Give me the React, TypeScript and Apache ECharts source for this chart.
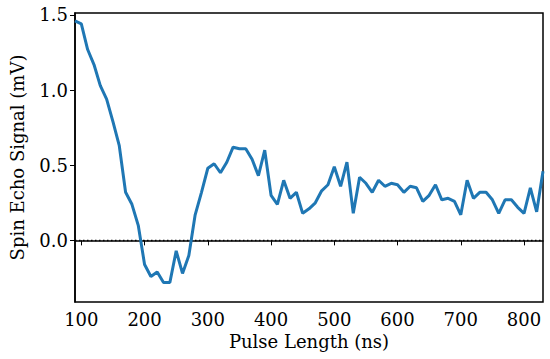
import React, { useEffect, useRef } from "react";
import * as echarts from "echarts";

const pulseLengths = [
  90, 100, 110, 120, 130, 140, 150, 160, 170, 180, 190, 200, 210, 220, 230, 240, 250, 260, 270, 280,
  290, 300, 310, 320, 330, 340, 350, 360, 370, 380, 390, 400, 410, 420, 430, 440, 450, 460, 470, 480,
  490, 500, 510, 520, 530, 540, 550, 560, 570, 580, 590, 600, 610, 620, 630, 640, 650, 660, 670, 680,
  690, 700, 710, 720, 730, 740, 750, 760, 770, 780, 790, 800, 810, 820, 830,
];

const signal = [
  1.46, 1.44, 1.27, 1.17, 1.03, 0.94, 0.79, 0.63, 0.32, 0.24, 0.1, -0.16, -0.24, -0.21, -0.28, -0.28, -0.07, -0.22, -0.1, 0.17,
  0.32, 0.48, 0.51, 0.45, 0.52, 0.62, 0.61, 0.61, 0.54, 0.43, 0.6, 0.3, 0.24, 0.4, 0.28, 0.32, 0.18, 0.21, 0.25, 0.33,
  0.37, 0.49, 0.36, 0.52, 0.18, 0.42, 0.38, 0.32, 0.4, 0.36, 0.38, 0.37, 0.32, 0.36, 0.35, 0.26, 0.3, 0.37, 0.27, 0.28,
  0.26, 0.17, 0.4, 0.28, 0.32, 0.32, 0.27, 0.18, 0.27, 0.27, 0.22, 0.18, 0.35, 0.19, 0.46,
];

const zeroLine = [
  [90, 0],
  [830, 0],
];

const xTicks = [100, 200, 300, 400, 500, 600, 700, 800];
const yTicks = [0, 0.5, 1.0, 1.5];

const FONT = "'DejaVu Serif', 'Liberation Serif', serif";
const FS = 18;

export default function App() {
  const ref = useRef<HTMLDivElement>(null);
  useEffect(() => {
    if (!ref.current) return;
    const chart = echarts.init(ref.current, null, { renderer: "svg" });
    chart.setOption({
      animation: false,
      backgroundColor: "#ffffff",
      grid: {
        left: 70,
        right: 7,
        top: 13,
        bottom: 57,
        show: true,
        borderColor: "#000",
        borderWidth: 1.5,
        backgroundColor: "transparent",
      },
      xAxis: {
        type: "value",
        min: 90,
        max: 830,
        name: "Pulse Length (ns)",
        nameLocation: "middle",
        nameGap: 30,
        nameTextStyle: { fontFamily: FONT, fontSize: FS, color: "#000" },
        axisLine: { show: true, lineStyle: { color: "#000", width: 1.5 } },
        axisTick: { show: true, customValues: xTicks, length: 5, lineStyle: { color: "#000", width: 1 } },
        axisLabel: {
          customValues: xTicks,
          fontFamily: FONT,
          fontSize: FS,
          color: "#000",
          margin: 8,
        },
        splitLine: { show: false },
      },
      yAxis: {
        type: "value",
        min: -0.41,
        max: 1.513,
        name: "Spin Echo Signal (mV)",
        nameLocation: "middle",
        nameGap: 49,
        nameTextStyle: { fontFamily: FONT, fontSize: FS, color: "#000" },
        axisLine: { show: true, lineStyle: { color: "#000", width: 1.5 } },
        axisTick: { show: true, customValues: yTicks, length: 5, lineStyle: { color: "#000", width: 1 } },
        axisLabel: {
          customValues: yTicks,
          fontFamily: FONT,
          fontSize: FS,
          color: "#000",
          margin: 7,
          formatter: (v: number) => v.toFixed(1),
        },
        splitLine: { show: false },
      },
      series: [
        {
          type: "line",
          data: zeroLine,
          showSymbol: false,
          symbol: "none",
          silent: true,
          lineStyle: { color: "#000", type: [1.5, 2.5], width: 1.5 },
          z: 1,
        },
        {
          type: "line",
          data: pulseLengths.map((x, i) => [x, signal[i]]),
          showSymbol: false,
          symbol: "none",
          lineStyle: { color: "#1f77b4", width: 3 },
          clip: true,
          z: 2,
        },
      ],
    });
    return () => chart.dispose();
  }, []);
  return (
    <div
      ref={ref}
      style={{ position: "absolute", left: 0, top: 0, width: 550, height: 359 }}
    />
  );
}
